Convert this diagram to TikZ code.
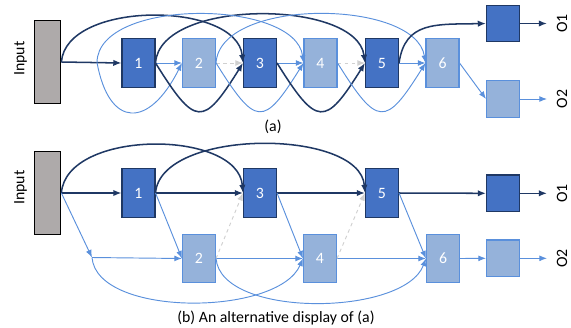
\documentclass[tikz,border=0pt]{standalone}
\usepackage{fontspec}
\setmainfont{Carlito}
\usetikzlibrary{arrows.meta}
\definecolor{dkline}{HTML}{1F3864}
\definecolor{dkfill}{HTML}{4472C4}
\definecolor{ltfill}{HTML}{95B2DA}
\definecolor{ltline}{HTML}{5A90DC}
\definecolor{infill}{HTML}{AEAAAA}
\definecolor{grline}{HTML}{D0D0D0}
\begin{document}
\begin{tikzpicture}[x=0.03cm, y=-0.03cm,
  font=\fontsize{13.5}{16}\selectfont,
  dkbox/.style={draw=dkline, fill=dkfill, line width=0.9pt, text=white,
    inner sep=0pt, minimum width=0.99cm, minimum height=1.45cm},
  ltbox/.style={dkbox, draw=ltline, fill=ltfill},
  outdk/.style={dkbox, minimum height=1.1cm},
  outlt/.style={ltbox, minimum height=1.1cm},
  inbox/.style={draw=black, fill=infill, line width=0.9pt,
    minimum width=0.8cm, minimum height=2.48cm},
  dk/.style={dkline, line width=1.3pt, -{Latex[length=7pt,width=5.5pt]}},
  lt/.style={ltline, line width=0.8pt, -{Latex[length=6.5pt,width=5pt]}},
  gr/.style={grline, line width=0.8pt, dashed, -{Latex[length=6.5pt,width=5pt]}}]
            \useasboundingbox (0,0) rectangle (571,327);

            % (a)
            \node[inbox] (ain) at (47.5,62) {};
            \node[rotate=90] (ainl) at (20.5,58.5) {Input};
            \node[dkbox] (a1) at (138.5,63) {1};
            \node[ltbox] (a2) at (199,63) {2};
            \node[dkbox] (a3) at (260,63) {3};
            \node[ltbox] (a4) at (320.5,63) {4};
            \node[dkbox] (a5) at (382,63) {5};
            \node[ltbox] (a6) at (442.5,63) {6};
            \node[outdk] (ao1) at (503,23.5) {};
            \node[outlt] (ao2) at (503,99) {};
            \node[rotate=90] (lo1a) at (562,23.5) {O1};
            \node[rotate=90] (lo2a) at (562,99) {O2};
            \coordinate (as) at (97,62.4);
            \coordinate (ao1x) at (547,23.5);
            \coordinate (ao2x) at (547,99);
            \node (capa) at (273,127) {(a)};

            \draw[dk] (ain.east) -- (a1.west);
            \draw[lt] (a1.east) -- (a2.west);
            \draw[gr] (a2.east) -- (a3.west);
            \draw[lt] (a3.east) -- (a4.west);
            \draw[gr] (a4.east) -- (a5.west);
            \draw[lt] (a5.east) -- (a6.west);
            \draw[dk] (ain.east) .. controls +(5,-62) and +(-6,-62) .. (a3.west);
            \draw[dk] (a1.east) .. controls +(4,-65) and +(-8,-64) .. (a5.west);
            \draw[lt] (as) .. controls +(1,-65) and +(-8,-64) .. (a4.west);
            \draw[lt] (a2.east) .. controls +(4,-66) and +(-10,-64) .. (a6.west);
            \draw[lt] (as) .. controls +(12,66) and +(-33,66) .. (a2.west);
            \draw[dk] (a1.east) .. controls +(40,64) and +(-40,64) .. (a3.west);
            \draw[lt] (a2.east) .. controls +(40,64) and +(-40,64) .. (a4.west);
            \draw[dk] (a3.east) .. controls +(40,64) and +(-40,64) .. (a5.west);
            \draw[lt] (a4.east) .. controls +(40,64) and +(-40,64) .. (a6.west);
            \draw[dk] (a5.east) .. controls +(6,-42) and +(-50,1) .. (ao1.west);
            \draw[lt] (a6.east) -- (ao2.west);
            \draw[dk] (ao1.east) -- (ao1x);
            \draw[lt] (ao2.east) -- (ao2x);

            % (b)
            \node[inbox] (bin) at (47.5,193) {};
            \node[rotate=90] (binl) at (20.5,187.5) {Input};
            \node[dkbox] (b1) at (138.5,193) {1};
            \node[ltbox] (b2) at (199,258.5) {2};
            \node[dkbox] (b3) at (260,193) {3};
            \node[ltbox] (b4) at (320,258.5) {4};
            \node[dkbox] (b5) at (382,193) {5};
            \node[ltbox] (b6) at (443,258.5) {6};
            \node[outdk] (bo1) at (503,193.3) {};
            \node[outlt] (bo2) at (503,258.3) {};
            \node[rotate=90] (lo1b) at (562,193.3) {O1};
            \node[rotate=90] (lo2b) at (562,258.3) {O2};
            \coordinate (bs) at (92,257.5);
            \coordinate (bo1x) at (547,193.3);
            \coordinate (bo2x) at (547,258.3);
            \node (capb) at (276,318) {(b) An alternative display of (a)};

            \draw[dk] (bin.east) -- (b1.west);
            \draw[dk] (b1.east) -- (b3.west);
            \draw[dk] (b3.east) -- (b5.west);
            \draw[dk] (b5.east) -- (bo1.west);
            \draw[dk] (bo1.east) -- (bo1x);
            \draw[dk] (bin.east) .. controls +(5,-64) and +(-5,-64) .. (b3.west);
            \draw[dk] (b1.east) .. controls +(5,-65) and +(-5,-65) .. (b5.west);
            \draw[lt] (bin.east) -- (bs);
            \draw[lt] (bs) -- (b2.west);
            \draw[lt] (bs) .. controls +(5,60) and +(-25,58) .. (b4.west);
            \draw[lt] (b1.east) -- (b2.west);
            \draw[lt] (b3.east) -- (b4.west);
            \draw[lt] (b5.east) -- (b6.west);
            \draw[lt] (b2.east) -- (b4.west);
            \draw[lt] (b2.east) .. controls +(5,60) and +(-22,58) .. (b6.west);
            \draw[lt] (b4.east) -- (b6.west);
            \draw[lt] (b6.east) -- (bo2.west);
            \draw[lt] (bo2.east) -- (bo2x);
            \draw[gr] (b2.east) -- (b3.west);
            \draw[gr] (b4.east) -- (b5.west);
        \end{tikzpicture}
\end{document}
